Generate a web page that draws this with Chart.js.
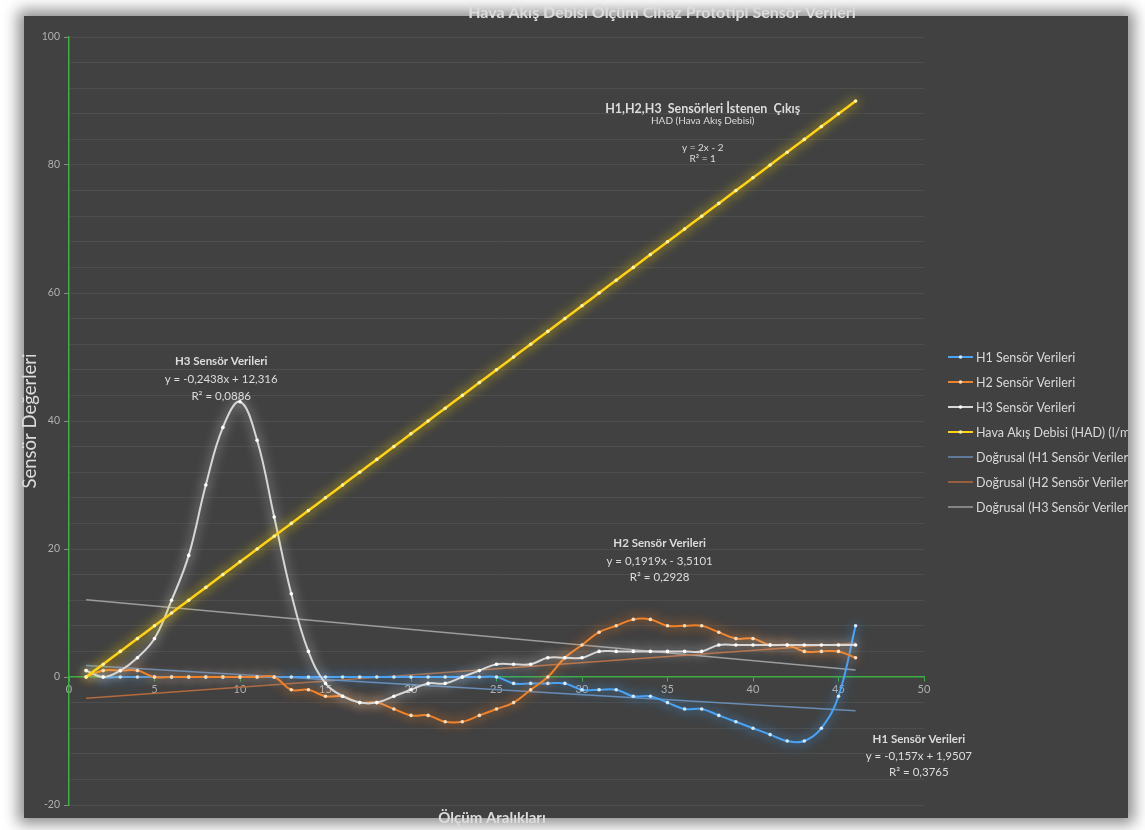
<!DOCTYPE html>
<html>
<head>
<meta charset="utf-8">
<title>Hava Akış Debisi Ölçüm Cihaz Prototipi Sensör Verileri</title>
<script src="https://cdn.jsdelivr.net/npm/chart.js@4.4.1/dist/chart.umd.min.js"></script>
<style>
    html, body { margin: 0; padding: 0; background: #ffffff; width: 1145px; height: 830px; overflow: hidden; }
    #panel { position: absolute; left: 24px; top: 16px; width: 1104px; height: 802px; background: #414141;
             box-shadow: 0 0 14px 6px rgba(0, 0, 0, 0.45); }
    #grafico { position: absolute; left: 0; top: 0; }
</style>
</head>
<body>
<div id="panel"></div>
<canvas id="grafico" width="1128" height="830" style="width:1128px;height:830px"></canvas>
<script>
// Ölçüm aralıkları (x ekseni)
var olcumAraliklari = [1, 2, 3, 4, 5, 6, 7, 8, 9, 10, 11, 12, 13, 14, 15, 16, 17, 18, 19, 20, 21, 22, 23,
    24, 25, 26, 27, 28, 29, 30, 31, 32, 33, 34, 35, 36, 37, 38, 39, 40, 41, 42, 43, 44, 45, 46];

// sensör verileri
var h1Verileri = [1, 0, 0, 0, 0, 0, 0, 0, 0, 0, 0, 0, 0, 0, 0, 0, 0, 0, 0, 0, 0, 0, 0,
    0, 0, -1, -1, -1, -1, -2, -2, -2, -3, -3, -4, -5, -5, -6, -7, -8, -9, -10, -10, -8, -3, 8];
var h2Verileri = [0, 1, 1, 1, 0, 0, 0, 0, 0, 0, 0, 0, -2, -2, -3, -3, -4, -4, -5, -6, -6, -7, -7,
    -6, -5, -4, -2, 0, 3, 5, 7, 8, 9, 9, 8, 8, 8, 7, 6, 6, 5, 5, 4, 4, 4, 3];
var h3Verileri = [1, 0, 1, 3, 6, 12, 19, 30, 39, 43, 37, 25, 13, 4, -1, -3, -4, -4, -3, -2, -1, -1, 0,
    1, 2, 2, 2, 3, 3, 3, 4, 4, 4, 4, 4, 4, 4, 5, 5, 5, 5, 5, 5, 5, 5, 5];
var hadVerileri = [0, 2, 4, 6, 8, 10, 12, 14, 16, 18, 20, 22, 24, 26, 28, 30, 32, 34, 36, 38, 40, 42, 44,
    46, 48, 50, 52, 54, 56, 58, 60, 62, 64, 66, 68, 70, 72, 74, 76, 78, 80, 82, 84, 86, 88, 90];

// doğrusal eğilim çizgileri (grafikteki denklemler: H1, H2, H3)
var egimler = [-0.157, 0.1919, -0.2438];
var kesimler = [1.9507, -3.5101, 12.316];

var seriAdlari = ['H1 Sensör Verileri', 'H2 Sensör Verileri', 'H3 Sensör Verileri',
    'Hava Akış Debisi (HAD) (l/min)', 'Doğrusal (H1 Sensör Verileri)',
    'Doğrusal (H2 Sensör Verileri)', 'Doğrusal (H3 Sensör Verileri)'];

var yEtiketleri = [-20, 0, 20, 40, 60, 80, 100];

function noktalar(seri) {
    return olcumAraliklari.map(function(x, i) { return { x: x, y: seri[i] }; });
}

function egilim(n) {
    var x0 = olcumAraliklari[0];
    var x1 = olcumAraliklari[olcumAraliklari.length - 1];
    return [{ x: x0, y: egimler[n] * x0 + kesimler[n] }, { x: x1, y: egimler[n] * x1 + kesimler[n] }];
}

function seri(ad, veri, renk, nokta, parilti, sira, kalinlik) {
    return {
        label: ad,
        data: veri,
        borderColor: renk,
        backgroundColor: renk,
        borderWidth: kalinlik,
        pointRadius: 1.8,
        pointHoverRadius: 1.8,
        pointBorderWidth: 0,
        pointBackgroundColor: nokta,
        tension: 0.4,
        fill: false,
        parilti: parilti,
        order: sira
    };
}

function trend(ad, veri, renk, sira) {
    return {
        label: ad,
        data: veri,
        borderColor: renk,
        backgroundColor: renk,
        borderWidth: 1.5,
        pointRadius: 0,
        tension: 0,
        fill: false,
        order: sira
    };
}

// yazılar (denklem kutuları)
var notlar = [
    { x: 37.06, y: 88.75, satirlar: [
        ['H1,H2,H3  Sensörleri İstenen  Çıkış', 'bold 12.5px Lato', 0],
        ['HAD (Hava Akış Debisi)', '10px Lato', 12],
        ['y = 2x - 2', '10px Lato', 39],
        ['R² = 1', '10px Lato', 50]] },
    { x: 8.9, y: 49.4, satirlar: [
        ['H3 Sensör Verileri', 'bold 11.5px Lato', 0],
        ['y = -0,2438x + 12,316', '11.5px Lato', 18],
        ['R² = 0,0886', '11.5px Lato', 35]] },
    { x: 34.54, y: 20.94, satirlar: [
        ['H2 Sensör Verileri', 'bold 11.5px Lato', 0],
        ['y = 0,1919x - 3,5101', '11.5px Lato', 18],
        ['R² = 0,2928', '11.5px Lato', 34]] },
    { x: 49.7, y: -9.69, satirlar: [
        ['H1 Sensör Verileri', 'bold 11.5px Lato', 0],
        ['y = -0,157x + 1,9507', '11.5px Lato', 17],
        ['R² = 0,3765', '11.5px Lato', 33]] }
];

var pariltiPlugin = {
    id: 'parilti',
    beforeDatasetDraw: function(chart, args) {
        var ds = chart.data.datasets[args.index];
        chart.ctx.save();
        if (ds.parilti) {
            chart.ctx.shadowColor = ds.parilti;
            chart.ctx.shadowBlur = 12;
        }
    },
    afterDatasetDraw: function(chart) {
        chart.ctx.restore();
    }
};

var yazilarPlugin = {
    id: 'yazilar',
    afterDraw: function(chart) {
        var ctx = chart.ctx;
        var area = chart.chartArea;
        var sx = chart.scales.x, sy = chart.scales.y;
        ctx.save();
        ctx.textAlign = 'center';
        ctx.textBaseline = 'middle';
        ctx.fillStyle = '#dcdcdc';

        // başlık
        ctx.font = 'bold 16px Lato';
        ctx.fillText('Hava Akış Debisi Ölçüm Cihaz Prototipi Sensör Verileri', 662, 13);

        // eksen başlıkları
        ctx.font = 'bold 15px Lato';
        ctx.fillText('Ölçüm Aralıkları', 492, 818);
        ctx.save();
        ctx.translate(30, (area.top + area.bottom) / 2);
        ctx.rotate(-Math.PI / 2);
        ctx.font = '18.5px Lato';
        ctx.fillText('Sensör Değerleri', 0, 0);
        ctx.restore();

        // denklem etiketleri
        notlar.forEach(function(n) {
            var px = sx.getPixelForValue(n.x);
            var py = sy.getPixelForValue(n.y);
            n.satirlar.forEach(function(s) {
                ctx.font = s[1];
                ctx.fillText(s[0], px, py + s[2]);
            });
        });

        // lejant
        ctx.textAlign = 'left';
        ctx.font = '12.5px Lato';
        chart.data.datasets.forEach(function(ds, i) {
            var x = area.right + 24;
            var y = area.top + 320 + i * 25;
            ctx.strokeStyle = ds.borderColor;
            ctx.lineWidth = ds.borderWidth > 2 ? 2 : ds.borderWidth;
            ctx.beginPath();
            ctx.moveTo(x, y);
            ctx.lineTo(x + 25, y);
            ctx.stroke();
            if (ds.pointRadius > 0) {
                ctx.fillStyle = ds.pointBackgroundColor;
                ctx.beginPath();
                ctx.arc(x + 12.5, y, 1.8, 0, 2 * Math.PI);
                ctx.fill();
            }
            ctx.fillStyle = '#d9d9d9';
            ctx.fillText(ds.label, x + 28, y + 0.5);
        });
        ctx.restore();
    }
};

Chart.defaults.font.family = 'Lato';

var ctx = document.getElementById('grafico').getContext('2d');
var grafik = new Chart(ctx, {
    type: 'line',
    data: {
        datasets: [
            seri(seriAdlari[0], noktalar(h1Verileri), '#4aa3f5', '#d2e9ff', 'rgba(74,163,245,0.95)', 3, 2),
            seri(seriAdlari[1], noktalar(h2Verileri), '#f0842c', '#ffdcbc', 'rgba(240,132,44,0.95)', 2, 2),
            seri(seriAdlari[2], noktalar(h3Verileri), '#d6d6d6', '#ffffff', 'rgba(255,255,255,0.8)', 1, 2),
            seri(seriAdlari[3], noktalar(hadVerileri), '#ffd21a', '#fff3a6', 'rgba(255,214,0,1)', 0, 2.5),
            trend(seriAdlari[4], egilim(0), '#6a8db5', 4),
            trend(seriAdlari[5], egilim(1), '#b36b3e', 5),
            trend(seriAdlari[6], egilim(2), '#9c9c9c', 6)
        ]
    },
    options: {
        responsive: false,
        animation: false,
        layout: { padding: { left: 24, right: 204, top: 37, bottom: 25 } },
        plugins: {
            legend: { display: false },
            tooltip: { enabled: false },
            title: { display: false }
        },
        scales: {
            x: {
                type: 'linear',
                min: 0,
                max: 50,
                position: { y: 0 },
                ticks: { stepSize: 5, color: '#b0b0b0', font: { size: 11 }, padding: 2 },
                grid: { drawOnChartArea: false, drawTicks: true, tickLength: 4, tickColor: '#3cb043' },
                border: { color: '#3cb043', width: 1.5 }
            },
            y: {
                type: 'linear',
                min: -20,
                max: 100,
                afterFit: function(scale) { scale.width = 45; },
                ticks: {
                    stepSize: 4,
                    autoSkip: false,
                    color: '#b0b0b0',
                    font: { size: 10.5 },
                    padding: 4,
                    callback: function(v) { return yEtiketleri.indexOf(v) >= 0 ? v : ''; }
                },
                grid: {
                    color: function(c) { return c.tick && c.tick.value === 0 ? 'rgba(0,0,0,0)' : 'rgba(255,255,255,0.07)'; },
                    tickLength: 5,
                    tickColor: function(c) { return c.tick && yEtiketleri.indexOf(c.tick.value) >= 0 ? '#8a8a8a' : 'rgba(0,0,0,0)'; }
                },
                border: { color: '#3cb043', width: 1.5 }
            }
        }
    },
    plugins: [pariltiPlugin, yazilarPlugin]
});
</script>
</body>
</html>
